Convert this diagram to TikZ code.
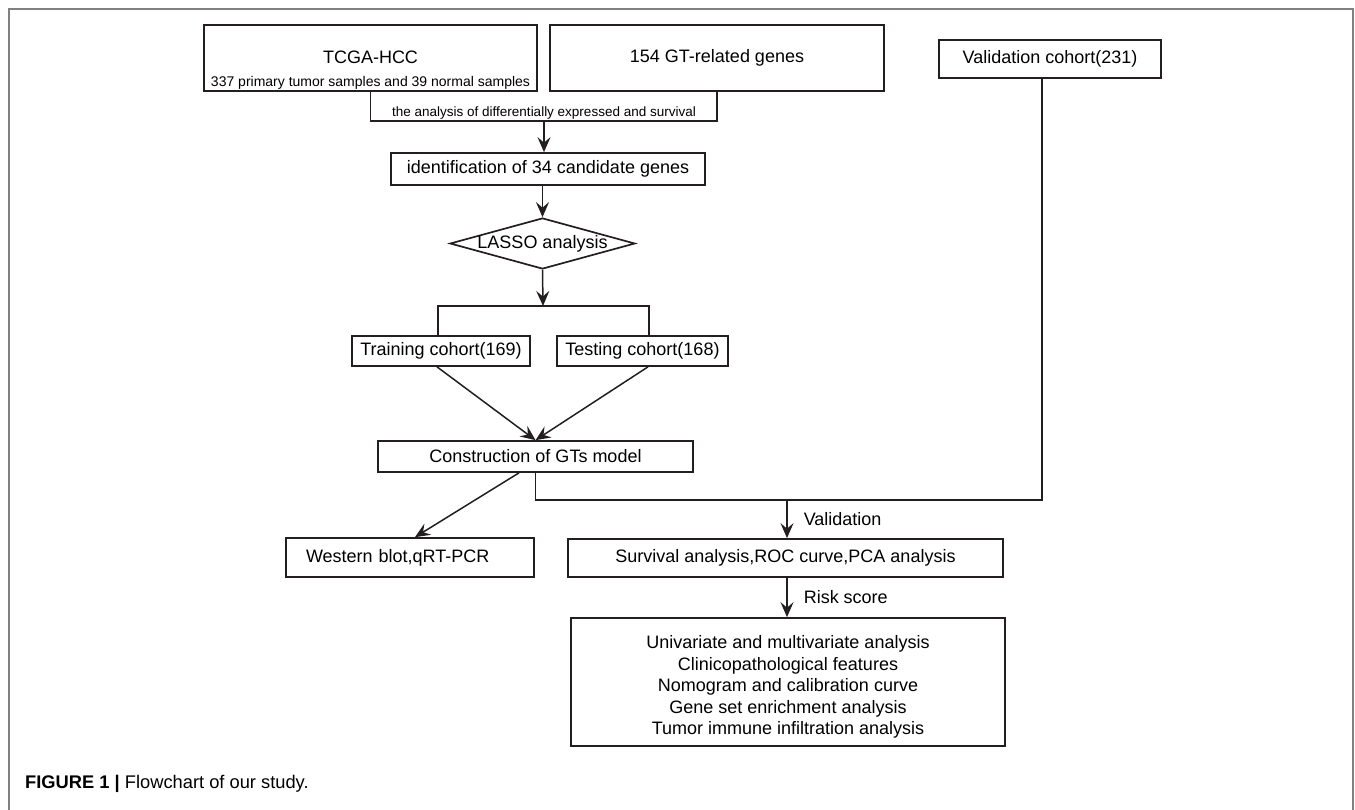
\documentclass[tikz,border=0pt]{standalone}
\usepackage{fontspec}
\setmainfont{Liberation Sans}
\usepackage{tikz}
\usetikzlibrary{shapes.geometric,arrows.meta,positioning}
\definecolor{ink}{HTML}{231F20}
\definecolor{framegray}{HTML}{808080}

\begin{document}
\begin{tikzpicture}[x=1pt, y=-1pt,
    font=\fontsize{18}{21.5}\selectfont,
    box/.style={draw=ink, line width=1.7pt, rectangle, inner sep=0pt, align=center},
    decision/.style={draw=ink, line width=1.7pt, diamond, inner sep=0pt},
    arr/.style={draw=ink, line width=1.5pt, -{Stealth[length=15pt, width=13pt, inset=5.5pt]}},
    link/.style={draw=ink, line width=1.5pt},
    lbl/.style={inner sep=0pt}]
    \useasboundingbox (0,0) rectangle (1355,810);
    \draw[framegray, line width=1.5pt] (9,810) -- (9,9) -- (1353,9) -- (1353,810);

    \node[box, minimum width=333pt, minimum height=66pt] (tcga) at (370.5,58) {\rule{0pt}{37pt}TCGA-HCC\\[1.5pt]{\fontsize{14}{16}\selectfont 337 primary tumor samples and 39 normal samples}};
    \node[box, minimum width=334pt, minimum height=66pt] (gt) at (717,58) {154 GT-related genes};
    \node[box, minimum width=222pt, minimum height=38pt] (valid) at (1050,59) {Validation cohort(231)};
    \node[box, minimum width=314pt, minimum height=32pt] (ident) at (548,169) {identification of 34 candidate genes};
    \node[decision, minimum width=185pt, minimum height=51pt] (lasso) at (542.5,243.5) {\makebox[0pt]{LASSO analysis}};
    \node[box, minimum width=178pt, minimum height=30pt] (train) at (441,351) {Training cohort(169)};
    \node[box, minimum width=171pt, minimum height=30pt] (test) at (642.5,351) {Testing cohort(168)};
    \node[box, minimum width=315pt, minimum height=31pt] (build) at (535.5,456.5) {Construction of GTs model};
    \node[box, minimum width=248pt, minimum height=39pt, text width=208pt, inner xsep=20pt, align=left] (western) at (410,557.5) {Western blot,qRT-PCR};
    \node[box, minimum width=435pt, minimum height=38pt] (surv) at (785.5,558) {Survival analysis,ROC curve,PCA analysis};
    \node[box, minimum width=434pt, minimum height=128pt] (outcome) at (788,682) {\rule{0pt}{23pt}Univariate and multivariate analysis\\Clinicopathological features\\Nomogram and calibration curve\\Gene set enrichment analysis\\Tumor immune infiltration analysis};

    \coordinate (merge) at (544,121);
    \coordinate (split) at (543,306);
    \coordinate (vjoin) at (787,500);

    \draw[link] (tcga.south) |- (merge) node[above, lbl, yshift=1pt, font=\fontsize{13.5}{16}\selectfont] (anlabel) {the analysis of differentially expressed and survival} -| (gt.south);
    \draw[arr] (merge) -- (merge |- ident.north);
    \draw[arr] (lasso.north |- ident.south) -- (lasso.north);
    \draw[arr] (lasso.south) -- (split);
    \draw[link] ([xshift=-3pt]train.north) |- (split) -| ([xshift=6.5pt]test.north);
    \draw[arr] ([xshift=-4pt]train.south) -- (build.north);
    \draw[arr] ([xshift=5.5pt]test.south) -- (build.north);
    \draw[arr] ([xshift=-16.5pt]build.south) -- ([xshift=5pt]western.north);
    \draw[link] (build.south) |- (vjoin) -| ([xshift=-8pt]valid.south);
    \draw[arr] (vjoin) -- node[right=16pt, lbl] (vlabel) {Validation} (vjoin |- surv.north);
    \draw[arr] (surv.south -| vjoin) -- node[right=16pt, lbl] (rlabel) {Risk score} (vjoin |- outcome.north);

    \node[anchor=base west, inner sep=0pt, font=\fontsize{18.3}{21}\selectfont] (caption) at (25,788) {\textbf{FIGURE 1 |} Flowchart of our study.};
\end{tikzpicture}
\end{document}
